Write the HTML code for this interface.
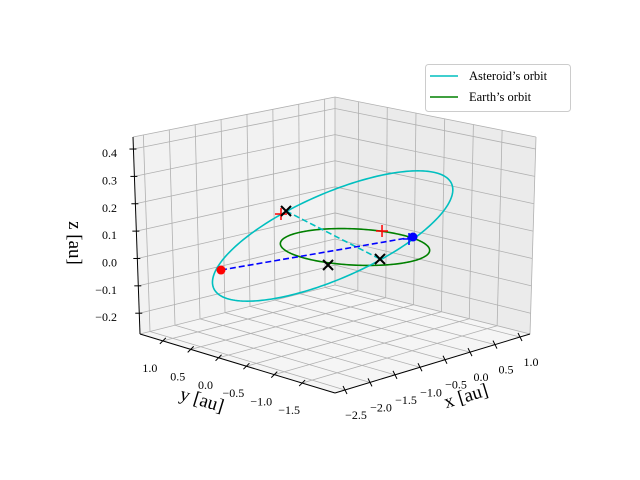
<!DOCTYPE html>
<html><head><meta charset="utf-8"><style>
body{margin:0;background:#fff}
svg{display:block;font-family:"Liberation Serif",serif}
</style></head><body>
<svg id="chart" width="640" height="480" viewBox="0 0 640 480"></svg>
<script>
// ---- data ----
const xTicks=[-2.5,-2.0,-1.5,-1.0,-0.5,0.0,0.5,1.0];
const yTicks=[1.0,0.5,0.0,-0.5,-1.0,-1.5];
const zTicks=[-0.2,-0.1,0.0,0.1,0.2,0.3,0.4];
const xLim=[-2.7,1.2], yLim=[-2.09,1.41], zLim=[-0.276,0.444];
// asteroid orbit: centre, semi-axis vectors A and B (au)
const astCenter=[0.24,0.58,0.0];
const astA=[-0.38,-2.38,0.3];
const astB=[-0.50,-0.40,-0.123];
const earthRadius=[1.0];
const redDot=[-2.371,0.389,0];
const blueDot=[1.028,-0.167,0];
const redPlus=[[0.648,1.801,0],[0.965,0.316,0]];
const bluePlus=[[0.901,-0.201,0]];
const blackX=[[0.829,1.861,0],[-0.256,-0.638,0],[-1.050,-0.386,0]];
const nodeLine=[[0.829,1.861,0],[-0.256,-0.638,0]];
const apsisLine=[redDot,blueDot];

// ---- projection ----
function P(p){return [355+47*p[0]-58*p[1], 247-12*p[0]-14*p[1]-280*p[2]];}
const svg=document.getElementById('chart');
const NS='http://www.w3.org/2000/svg';
function mk(tag,attrs,parent){const e=document.createElementNS(NS,tag);for(const k in attrs)e.setAttribute(k,attrs[k]);(parent||svg).appendChild(e);return e;}
function L(a,b,t){return [a[0]+(b[0]-a[0])*t,a[1]+(b[1]-a[1])*t];}
const F0=[335,393],Lb=[140,334],Rb=[530,334],Bb=[335,285],Lt=[133,137],Bt=[335,97],Rt=[536,137];
const fx=v=>(v-xLim[0])/(xLim[1]-xLim[0]);
const fy=v=>(v-yLim[0])/(yLim[1]-yLim[0]);
const fz=v=>(v-zLim[0])/(zLim[1]-zLim[0]);
const pts=a=>a.map(p=>p.join(',')).join(' ');

let e;
e=mk('polygon',{points:pts([Lb,Bb,Bt,Lt]),fill:'#f2f2f2'});

e=mk('polygon',{points:pts([Bb,Rb,Rt,Bt]),fill:'#ebebeb'});

e=mk('polygon',{points:pts([Lb,Bb,Rb,F0]),fill:'#f5f5f5'});


const grid=mk('g',{stroke:'#b0b0b0','stroke-width':0.8,fill:'none'});

function gl(a,b){mk('line',{x1:a[0],y1:a[1],x2:b[0],y2:b[1]},grid);}
xTicks.forEach(v=>{const t=fx(v);gl(L(Lb,Bb,t),L(Lt,Bt,t));gl(L(F0,Rb,t),L(Lb,Bb,t));});
yTicks.forEach(v=>{const t=fy(v);gl(L(Rb,Bb,t),L(Rt,Bt,t));gl(L(F0,Lb,t),L(Rb,Bb,t));});
zTicks.forEach(v=>{const t=fz(v);gl(L(Lb,Lt,t),L(Bb,Bt,t));gl(L(Bb,Bt,t),L(Rb,Rt,t));});
[[Lb,Bb],[Bb,Rb],[Bb,Bt],[Lt,Bt],[Bt,Rt],[Rb,Rt]].forEach(s=>gl(s[0],s[1]));

const ax=mk('g',{stroke:'#000','stroke-width':1});

mk('line',{x1:Lb[0],y1:Lb[1],x2:Lt[0],y2:Lt[1]},ax);
mk('line',{x1:Lb[0],y1:Lb[1],x2:F0[0],y2:F0[1]},ax);
mk('line',{x1:F0[0],y1:F0[1],x2:Rb[0],y2:Rb[1]},ax);

const lab=mk('g',{'font-size':12,fill:'#000'});

const fmt=v=>(v<0?'\u2212':'')+Math.abs(v).toFixed(1);
zTicks.forEach(v=>{const p=L(Lb,Lt,fz(v));mk('line',{x1:p[0]-4,y1:p[1],x2:p[0]+3,y2:p[1]},ax);
 const t=mk('text',{x:117,y:p[1]+8,'text-anchor':'end'},lab);t.textContent=fmt(v);});
yTicks.forEach(v=>{const p=L(F0,Lb,fy(v));mk('line',{x1:p[0]-3,y1:p[1]+3,x2:p[0]+3,y2:p[1]-3},ax);
 const t=mk('text',{x:p[0]-13,y:p[1]+31,'text-anchor':'middle'},lab);t.textContent=fmt(v);});
xTicks.forEach(v=>{const p=L(F0,Rb,fx(v));mk('line',{x1:p[0]-2,y1:p[1]-4,x2:p[0]+2,y2:p[1]+4},ax);
 const t=mk('text',{x:p[0]+11,y:p[1]+29,'text-anchor':'middle'},lab);t.textContent=fmt(v);});

let tt;
tt=mk('text',{x:466,y:402,'font-size':19,'text-anchor':'middle',transform:'rotate(-17 466 396)'});
tt.textContent='x [au]';
tt=mk('text',{x:202,y:406,'font-size':19,'text-anchor':'middle',transform:'rotate(17 202 400)'});
tt.textContent='y [au]';
tt=mk('text',{x:75,y:249,'font-size':19,'text-anchor':'middle',transform:'rotate(90 75 243)'});
tt.textContent='z [au]';

function orbit(c,a,b){const r=[];for(let i=0;i<=200;i++){const t=2*Math.PI*i/200;
 r.push(P([c[0]+a[0]*Math.cos(t)+b[0]*Math.sin(t),c[1]+a[1]*Math.cos(t)+b[1]*Math.sin(t),c[2]+a[2]*Math.cos(t)+b[2]*Math.sin(t)]));}return r;}
e=mk('polyline',{points:pts(orbit([0,0,0],[earthRadius[0],0,0],[0,earthRadius[0],0])),fill:'none',stroke:'#008000','stroke-width':1.6});

e=mk('polyline',{points:pts(orbit(astCenter,astA,astB)),fill:'none',stroke:'#00bfbf','stroke-width':1.6});


let a1=P(nodeLine[0]),a2=P(nodeLine[1]);
e=mk('line',{x1:a1[0],y1:a1[1],x2:a2[0],y2:a2[1],stroke:'#00bfbf','stroke-width':1.6,'stroke-dasharray':'6,3'});

a1=P(apsisLine[0]);a2=P(apsisLine[1]);
e=mk('line',{x1:a1[0],y1:a1[1],x2:a2[0],y2:a2[1],stroke:'#0000ff','stroke-width':1.6,'stroke-dasharray':'6,3'});


function plus(p,col,name){const q=P(p);const g=mk('g',{stroke:col,'stroke-width':1.5});
 
 mk('line',{x1:q[0]-6,y1:q[1],x2:q[0]+6,y2:q[1]},g);mk('line',{x1:q[0],y1:q[1]-6,x2:q[0],y2:q[1]+6},g);}
function cross(p,name){const q=P(p);const g=mk('g',{stroke:'#000','stroke-width':2});
 
 mk('line',{x1:q[0]-5,y1:q[1]-5,x2:q[0]+5,y2:q[1]+5},g);mk('line',{x1:q[0]-5,y1:q[1]+5,x2:q[0]+5,y2:q[1]-5},g);}
redPlus.forEach(p=>plus(p,'#ff0000','red-plus-marker'));
blackX.forEach(p=>cross(p,'black-x-marker'));
let q=P(redDot);e=mk('circle',{cx:q[0],cy:q[1],r:4.5,fill:'#ff0000'});

q=P(blueDot);e=mk('circle',{cx:q[0],cy:q[1],r:4.5,fill:'#0000ff'});

bluePlus.forEach(p=>plus(p,'#0000ff','blue-plus-marker'));

const lg=mk('g',{});

mk('rect',{x:425.5,y:64.5,width:145,height:47,rx:3,fill:'#fff','fill-opacity':0.85,stroke:'#cccccc'},lg);
e=mk('line',{x1:430,y1:76,x2:458,y2:76,stroke:'#00bfbf','stroke-width':1.6},lg);

e=mk('line',{x1:430,y1:97,x2:458,y2:97,stroke:'#008000','stroke-width':1.6},lg);

e=mk('text',{x:469,y:80,'font-size':12.5},lg);e.textContent='Asteroid\u2019s orbit';

e=mk('text',{x:469,y:101,'font-size':12.5},lg);e.textContent='Earth\u2019s orbit';

</script>
</body></html>
